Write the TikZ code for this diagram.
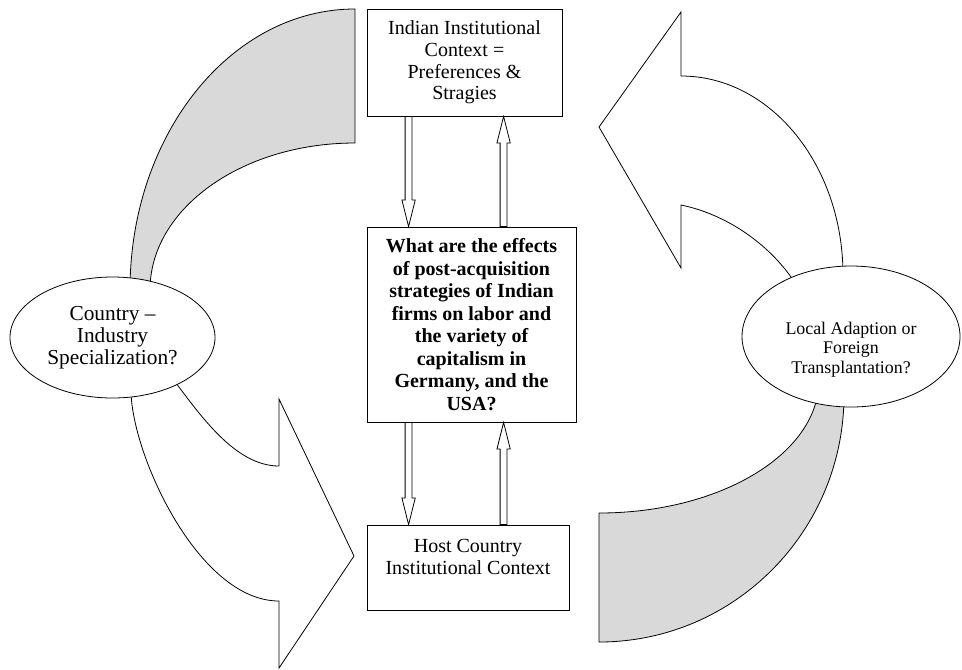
\documentclass[tikz,border=0pt]{standalone}
\usepackage{fontspec}
\setmainfont{Liberation Serif}
\usetikzlibrary{shapes.geometric,calc}
\definecolor{bandgray}{RGB}{217,217,217}

% hollow block arrow from #1 to #2
\newcommand{\blockarrow}[2]{%
  \coordinate (ba-h) at ($(#2)!20pt!(#1)$);
  \draw[fill=white] ($(#1)!2.6pt!90:(#2)$) -- ($(ba-h)!2.6pt!90:(#2)$)
    -- ($(ba-h)!5pt!90:(#2)$) -- (#2) -- ($(ba-h)!5pt!-90:(#2)$)
    -- ($(ba-h)!2.6pt!-90:(#2)$) -- ($(#1)!2.6pt!-90:(#2)$) -- cycle;}

\begin{document}
\begin{tikzpicture}[x=0.75pt,y=-0.75pt,line width=0.6pt,line join=miter,
  box/.style={draw,fill=white,align=center,inner sep=2pt,
    font=\fontsize{15pt}{16.3pt}\selectfont},
  oval/.style={draw,fill=white,ellipse,inner sep=0pt,align=center},
  band/.style={draw,fill=bandgray},
  bigarrow/.style={draw,fill=white}]
\useasboundingbox (0,0) rectangle (962,669);

% curved bands and big arrows
\draw[band] (130,290) .. controls (130,134.8) and (230.7,9) .. (355,9)
  -- (355,143) .. controls (241.8,143) and (150,208.8) .. (150,290) -- cycle;
\draw[bigarrow] (131,390) .. controls (131,453) and (198,601) .. (279,601)
  -- (279,668) -- (354,556) -- (279,399) -- (279,466)
  .. controls (235,466) and (200,415) .. (170,375) -- cycle;
\draw[bigarrow] (843,275) .. controls (843,165) and (770.5,76) .. (681,76)
  -- (681,12) -- (599,127) -- (681,268) -- (681,205)
  .. controls (730,215) and (780,250) .. (805,300) -- cycle;
\draw[band] (844,395) .. controls (844,531.4) and (734.3,642) .. (599,642)
  -- (599,513) .. controls (720.5,513) and (819,453.5) .. (819,380) -- cycle;

% boxes
\node[box,minimum width=146.25pt,minimum height=80.25pt] (ctx) at (464.5,62.5)
  {Indian Institutional\\Context =\\Preferences \&\\Stragies};
\node[box,minimum width=156.75pt,minimum height=146.25pt,font=\fontsize{15pt}{16.9pt}\selectfont\bfseries] (quest) at (471.5,324.5)
  {What are the effects\\of post-acquisition\\strategies of Indian\\firms on labor and\\the variety of\\capitalism in\\Germany, and the\\USA?};
\node[box,minimum width=151.5pt,minimum height=63.75pt] (host) at (468,567.5)
  {Host Country\\Institutional Context\\~};

% ellipses
\node[oval,minimum width=153.75pt,minimum height=90.75pt,
  font=\fontsize{16pt}{16.3pt}\selectfont] (spec) at (112.5,337.5)
  {Country --\\Industry\\Specialization?};
\node[oval,minimum width=163.5pt,minimum height=105.75pt,
  font=\fontsize{13.4pt}{14.3pt}\selectfont] (adapt) at (851,336.5)
  {\rule{0pt}{29pt}Local Adaption or\\Foreign\\Transplantation?};

% small arrows between the boxes
\coordinate (dnx) at ($(ctx.south west)+(42,0)$);
\coordinate (upx) at ($(ctx.south west)+(137,0)$);
\blockarrow{ctx.south -| dnx}{quest.north -| dnx}
\blockarrow{quest.north -| upx}{ctx.south -| upx}
\blockarrow{quest.south -| dnx}{host.north -| dnx}
\blockarrow{host.north -| upx}{quest.south -| upx}
\end{tikzpicture}
\end{document}
